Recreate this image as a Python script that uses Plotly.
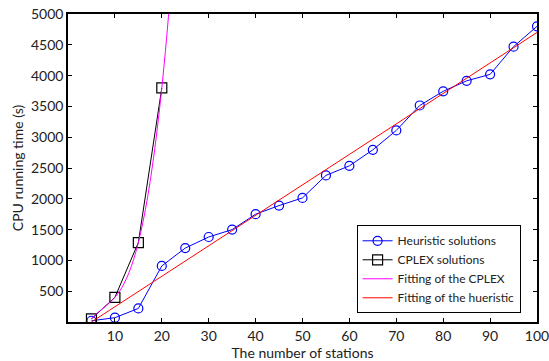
import plotly.graph_objects as go

stations = [5, 10, 15, 20, 25, 30, 35, 40, 45, 50, 55, 60, 65, 70, 75, 80, 85, 90, 95, 100]
heuristic = [20, 70, 220, 910, 1200, 1380, 1500, 1750, 1890, 2015, 2380, 2535, 2795, 3110, 3515, 3745, 3915, 4020, 4470, 4800]

cplex_x = [5, 10, 15, 20]
cplex = [50, 400, 1290, 3800]

fit_cplex_x = [5, 6, 7, 8, 9, 10, 11, 12, 13, 14, 15, 16, 17, 18, 19, 20, 21, 22]
fit_cplex = [50, 129, 194, 256, 321, 400, 500, 631, 800, 1017, 1290, 1628, 2039, 2533, 3117, 3800, 4591, 5500]

fit_heur_x = [5, 100]
fit_heur = [0, 4700]

xticks = [10, 20, 30, 40, 50, 60, 70, 80, 90, 100]
yticks = [500, 1000, 1500, 2000, 2500, 3000, 3500, 4000, 4500, 5000]

FONT = "Lato"

fig = go.Figure()
fig.add_trace(go.Scatter(
    x=stations, y=heuristic, mode="lines+markers", name="Heuristic solutions",
    line=dict(color="#0000FF", width=1),
    marker=dict(symbol="circle-open", size=9, color="#0000FF", line=dict(width=1.2, color="#0000FF")),
))
fig.add_trace(go.Scatter(
    x=cplex_x, y=cplex, mode="lines+markers", name="CPLEX solutions",
    line=dict(color="#000000", width=1),
    marker=dict(symbol="square-open", size=10, color="#000000", line=dict(width=1.2, color="#000000")),
))
fig.add_trace(go.Scatter(
    x=fit_cplex_x, y=fit_cplex, mode="lines", name="Fitting of the CPLEX",
    line=dict(color="#FF00FF", width=1, shape="spline"),
))
fig.add_trace(go.Scatter(
    x=fit_heur_x, y=fit_heur, mode="lines", name="Fitting of the hueristic",
    line=dict(color="#FF0000", width=1),
))

axis_common = dict(
    showline=True, linecolor="#000000", linewidth=1.5, mirror="ticks",
    ticks="inside", ticklen=4, tickcolor="#000000", tickwidth=1,
    showgrid=False, zeroline=False, ticklabeloverflow="allow", automargin=False,
    tickfont=dict(family=FONT, size=14, color="#222222"),
)

fig.update_layout(
    width=549, height=361,
    margin=dict(l=68, r=12, t=14, b=39),
    plot_bgcolor="white", paper_bgcolor="white",
    xaxis=dict(range=[0, 100], tickvals=xticks, ticktext=[str(v) for v in xticks],
               title=dict(text="The number of stations", standoff=2,
                          font=dict(family=FONT, size=14, color="#222222")),
               **axis_common),
    yaxis=dict(range=[0, 5000], tickvals=yticks, ticktext=[str(v) for v in yticks],
               title=dict(text="CPU running time (s)", standoff=4,
                          font=dict(family=FONT, size=14, color="#222222")),
               **axis_common),
    legend=dict(x=0.965, y=0.314, xanchor="right", yanchor="top",
                bordercolor="#000000", borderwidth=1, bgcolor="white",
                font=dict(family=FONT, size=12, color="#222222"),
                tracegroupgap=0, itemwidth=30),
    showlegend=True,
)

fig.write_html("out.html", config={"displayModeBar": False},
               post_script="document.body.style.margin='0';document.body.style.padding='0';")
